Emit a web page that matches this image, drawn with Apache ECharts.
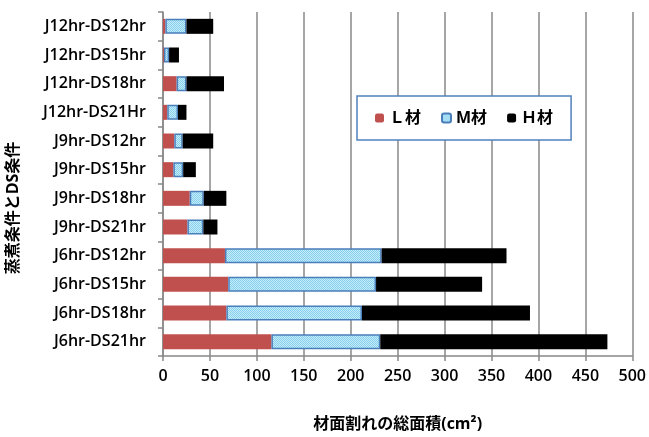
<!DOCTYPE html>
<html>
<head>
<meta charset="utf-8">
<script src="https://cdn.jsdelivr.net/npm/echarts@6/dist/echarts.min.js"></script>
<style>
  html, body { margin: 0; padding: 0; background: #ffffff; }
  #chart { width: 649px; height: 437px; }
</style>
</head>
<body>
<div id="chart"></div>
<script>
// Steaming / drying-schedule conditions, listed from top to bottom
const conditions = [
  'J12hr-DS12hr', 'J12hr-DS15hr', 'J12hr-DS18hr', 'J12hr-DS21Hr',
  'J9hr-DS12hr', 'J9hr-DS15hr', 'J9hr-DS18hr', 'J9hr-DS21hr',
  'J6hr-DS12hr', 'J6hr-DS15hr', 'J6hr-DS18hr', 'J6hr-DS21hr'
];

// Total checked surface area (cm2) per lumber grade
const lGrade = [2.5, 1, 14.5, 4.5, 12, 11, 28.5, 26, 66, 69.5, 67.5, 115.5];
const mGrade = [22.5, 5.5, 10.5, 11.5, 9, 10.5, 15, 17, 167, 157.5, 144.5, 116];
const hGrade = [28.5, 10.5, 40, 9, 32.5, 13.5, 24, 15, 133, 113, 179, 242];

const seriesNames = ['Ｌ材', 'M材', 'Ｈ材'];
const xTicks = { min: 0, max: 500, step: 50 };

const FONT = "'Open Sans', 'Noto Sans CJK JP', sans-serif";

// Dotted fill used for the M-grade segments
function dotPattern() {
  const c = document.createElement('canvas');
  c.width = 2; c.height = 2;
  const g = c.getContext('2d');
  g.fillStyle = '#c6ecfa';
  g.fillRect(0, 0, 2, 2);
  g.fillStyle = '#86d0ee';
  g.fillRect(0, 0, 1, 1);
  g.fillRect(1, 1, 1, 1);
  return c;
}

const chart = echarts.init(document.getElementById('chart'), null, { renderer: 'canvas' });

chart.setOption({
  animation: false,
  backgroundColor: '#ffffff',
  grid: { left: 163, right: 16, top: 12, bottom: 77 },
  legend: {
    data: seriesNames,
    left: 357,
    top: 96,
    orient: 'horizontal',
    padding: [14, 18, 14, 18],
    itemGap: 20,
    itemWidth: 9,
    itemHeight: 9,
    backgroundColor: '#ffffff',
    borderColor: '#4f81bd',
    borderWidth: 1.5,
    textStyle: { fontFamily: FONT, fontSize: 16, fontWeight: 'bold', color: '#000' }
  },
  xAxis: {
    type: 'value',
    min: xTicks.min,
    max: xTicks.max,
    interval: xTicks.step,
    name: '材面割れの総面積(cm²)',
    nameLocation: 'middle',
    nameGap: 60,
    nameTextStyle: { fontFamily: FONT, fontSize: 16, fontWeight: 'bold', color: '#000' },
    axisLine: { show: true, lineStyle: { color: '#888', width: 1.5 } },
    axisTick: { show: true, length: 5, lineStyle: { color: '#888', width: 1.5 } },
    axisLabel: { fontFamily: FONT, fontSize: 16, fontWeight: 600, color: '#000', margin: 12 },
    splitLine: { show: true, lineStyle: { color: '#888', width: 1.5 } }
  },
  yAxis: {
    type: 'category',
    data: conditions,
    inverse: true,
    axisLine: { show: true, lineStyle: { color: '#888', width: 1.5 } },
    axisTick: { show: true, length: 5, lineStyle: { color: '#888', width: 1.5 } },
    axisLabel: { fontFamily: FONT, fontSize: 16, fontWeight: 600, color: '#000', margin: 17 }
  },
  graphic: [{
    type: 'text',
    x: 13,
    y: 208,
    rotation: Math.PI / 2,
    style: {
      text: '蒸煮条件とDS条件',
      font: 'bold 16px ' + FONT,
      fill: '#000',
      align: 'center',
      verticalAlign: 'middle'
    }
  }],
  series: [
    {
      name: seriesNames[0], type: 'bar', stack: 'area', barWidth: 15,
      itemStyle: { color: '#c0504d' },
      data: lGrade
    },
    {
      name: seriesNames[1], type: 'bar', stack: 'area', barWidth: 15,
      itemStyle: {
        color: { image: dotPattern(), repeat: 'repeat' },
        borderColor: '#4a7ebb',
        borderWidth: 1.5
      },
      data: mGrade
    },
    {
      name: seriesNames[2], type: 'bar', stack: 'area', barWidth: 15,
      itemStyle: { color: '#000000' },
      data: hGrade
    }
  ]
});
</script>
</body>
</html>
